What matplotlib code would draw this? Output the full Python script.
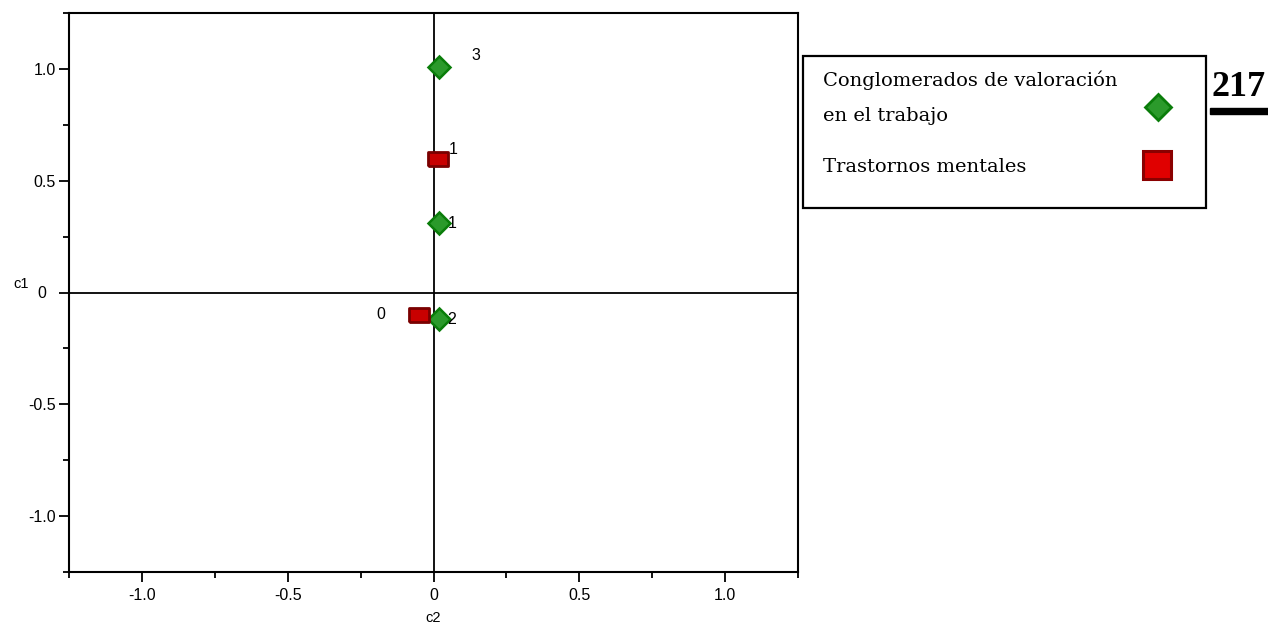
import matplotlib.pyplot as plt
from matplotlib.lines import Line2D
from matplotlib.patches import Rectangle
from matplotlib.ticker import MultipleLocator, FixedLocator

# Coordenadas de las categorias (c2 = eje x, c1 = eje y)
cong_x = [0.02, 0.02, 0.02]
cong_y = [1.01, 0.31, -0.12]
cong_lab = ['3', '1', '2']

tras_x = [0.015, -0.05]
tras_y = [0.595, -0.10]
tras_lab = ['1', '0']

xticks = [-1.0, -0.5, 0, 0.5, 1.0]
yticks = [-1.0, -0.5, 0, 0.5, 1.0]
xticklabels = ['-1.0', '-0.5', '0', '0.5', '1.0']
yticklabels = ['-1.0', '-0.5', '0  ', '0.5', '1.0']

legend_labels = ['Conglomerados de valoración', 'en el trabajo', 'Trastornos mentales']

# desplazamiento de las etiquetas (puntos)
cong_off = [(23, 8, 'left'), (6, 0, 'left'), (6, 0, 'left')]
tras_off = [(8, 7, 'left'), (-24, 0, 'right')]

green = '#2b9a2b'
green_edge = '#0a7d0a'
red = '#c80000'
red_edge = '#7a0000'

sans = ['Liberation Sans', 'DejaVu Sans']
serif = ['DejaVu Serif']

W, H = 1268, 625
fig = plt.figure(figsize=(W / 100, H / 100), dpi=100)
ax = fig.add_axes([69 / W, 53 / H, 729 / W, 559 / H])

ax.axhline(0, color='black', lw=1.3, zorder=1)
ax.axvline(0, color='black', lw=1.3, zorder=1)

rect = [(-1.4, -1), (1.4, -1), (1.4, 1), (-1.4, 1), (-1.4, -1)]

ax.plot(cong_x, cong_y, ls='none', marker='D', ms=11, mfc=green, mec=green_edge,
        mew=1.8, zorder=3)
ax.plot(tras_x, tras_y, ls='none', marker=rect, ms=14, mfc=red, mec=red_edge,
        mew=2, zorder=3)

for x, y, t, (dx, dy, ha) in zip(cong_x, cong_y, cong_lab, cong_off):
    ax.annotate(t, (x, y), xytext=(dx, dy), textcoords='offset points',
                ha=ha, va='center', fontsize=11.5, family=sans, zorder=4)
for x, y, t, (dx, dy, ha) in zip(tras_x, tras_y, tras_lab, tras_off):
    ax.annotate(t, (x, y), xytext=(dx, dy), textcoords='offset points',
                ha=ha, va='center', fontsize=11.5, family=sans, zorder=4)

ax.set_xlim(-1.25, 1.25)
ax.set_ylim(-1.25, 1.25)
ax.xaxis.set_major_locator(FixedLocator(xticks))
ax.yaxis.set_major_locator(FixedLocator(yticks))
ax.xaxis.set_minor_locator(MultipleLocator(0.25))
ax.yaxis.set_minor_locator(MultipleLocator(0.25))
ax.set_xticklabels(xticklabels)
ax.set_yticklabels(yticklabels)
ax.tick_params(which='major', direction='out', length=7.5, width=1.3,
               labelsize=11.5, pad=2)
ax.tick_params(axis='x', which='major', pad=4)
ax.tick_params(which='minor', direction='out', length=4.5, width=1.3)
for lab in ax.get_xticklabels() + ax.get_yticklabels():
    lab.set_family(sans)
for s in ax.spines.values():
    s.set_linewidth(1.5)

ax.set_xlabel('c2', fontsize=10.5, family=sans, labelpad=6)
ax.set_ylabel('c1', fontsize=10.5, family=sans, rotation=0)
ax.yaxis.set_label_coords(-0.066, 0.503)

# leyenda dibujada a mano (texto a la izquierda, marcador a la derecha)
fig.add_artist(Rectangle((803 / W, 1 - 208 / H), 403 / W, 152 / H,
                         transform=fig.transFigure, fill=False,
                         edgecolor='black', lw=1.6))
for txt, yp in zip(legend_labels, [80, 116, 167]):
    fig.text(823 / W, 1 - yp / H, txt, ha='left', va='center',
             fontsize=14, family=serif)
fig.add_artist(Line2D([1158 / W], [1 - 107 / H], transform=fig.transFigure,
                      ls='none', marker='D', ms=13, mfc=green, mec=green_edge, mew=2))
fig.add_artist(Line2D([1157 / W], [1 - 165 / H], transform=fig.transFigure,
                      ls='none', marker='s', ms=20, mfc='#e00000', mec='#8a0000',
                      mew=2.2))

fig.text(1239 / W, 1 - 87 / H, '217', ha='center', va='center',
         fontsize=26, fontweight='bold', family=['Liberation Serif'])
fig.add_artist(Rectangle((1210 / W, 1 - 114 / H), 58 / W, 6 / H,
                         transform=fig.transFigure, color='black'))

fig.savefig('out.png', dpi=100)
